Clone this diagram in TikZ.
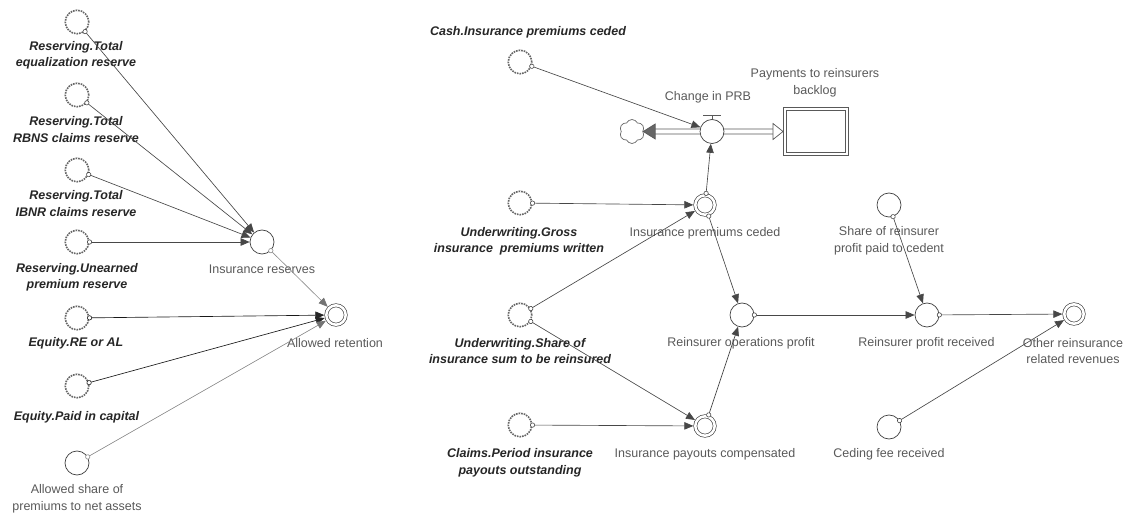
\documentclass[tikz,border=0pt]{standalone}
\usepackage{fontspec}
\setmainfont{Liberation Sans}
\usetikzlibrary{arrows.meta,shapes.symbols,backgrounds}
\begin{document}
\begin{tikzpicture}[x=1bp,y=-1bp,
  every node/.style={font=\fontsize{12.5bp}{16.5bp}\selectfont},
  ghost/.style={circle,draw=black!60,densely dotted,line width=1.6bp,minimum size=23.5bp,inner sep=0,fill=white},
  conv/.style={circle,draw=black!75,line width=0.7bp,minimum size=24bp,inner sep=0,fill=white},
  dconv/.style={circle,draw=black!70,line width=0.7bp,double=white,double distance=2.5bp,minimum size=19.4bp,inner sep=0,outer sep=2bp},
  lab/.style={text=black!65,align=center,inner sep=0},
  blab/.style={text=black!85,align=center,inner sep=0,font=\fontsize{12.5bp}{16.5bp}\selectfont\bfseries\itshape},
  conn/.style={draw=black!72,line width=0.65bp,shorten <=-2.5bp,
    {Circle[open,length=5bp,width=5bp,fill=white,line width=0.6bp]}-{Triangle[length=9bp,width=7.5bp,color=black!72]}},
  darkconn/.style={conn,draw=black!90,
    {Circle[open,length=5bp,width=5bp,fill=white,line width=0.6bp]}-{Triangle[length=9bp,width=7.5bp,color=black!85]}},
  lightconn/.style={conn,draw=black!45,
    {Circle[open,length=5bp,width=5bp,fill=white,line width=0.6bp]}-{Triangle[length=9bp,width=7.5bp,color=black!55]}},
  pipe/.style={draw=black!65,line width=0.7bp},
  stockbox/.style={rectangle,draw=black!65,line width=0.8bp,double=white,double distance=2bp,minimum width=62.4bp,minimum height=45.4bp,inner sep=0,outer sep=1.8bp},
  cloudshape/.style={cloud,draw=black!60,line width=0.7bp,cloud puffs=6,cloud puff arc=130,aspect=1,minimum width=25bp,minimum height=24bp,inner sep=0,fill=white}
]
\useasboundingbox (0,0) rectangle (1134,515);

% ---------- left part ----------
\node[ghost] (eq) at (77,22) {};
\node[blab] (l-eq) at (76,55.5) {Reserving.Total\\equalization reserve};
\node[ghost] (rbns) at (77,95) {};
\node[blab] (l-rbns) at (76,129.5) {Reserving.Total\\RBNS claims reserve};
\node[ghost] (ibnr) at (77,170) {};
\node[blab] (l-ibnr) at (76,203.5) {Reserving.Total\\IBNR claims reserve};
\node[ghost] (uepr) at (77,242) {};
\node[blab] (l-uepr) at (77,277.5) {Reserving.Unearned\\premium reserve};
\node[ghost] (eqre) at (77,318) {};
\node[blab] (l-eqre) at (76,343) {Equity.RE or AL};
\node[ghost] (paid) at (77,386) {};
\node[blab] (l-paid) at (76.5,417) {Equity.Paid in capital};
\node[conv] (ashare) at (77,463) {};
\node[lab] (l-ashare) at (77,499) {Allowed share of\\premiums to net assets};
\node[conv] (insres) at (262,242) {};
\node[lab] (l-insres) at (262,269) {Insurance reserves};
\node[dconv] (allret) at (336,315) {};
\node[lab] (l-allret) at (335,343) {Allowed retention};

% ---------- middle part ----------
\node[ghost] (cash) at (520,62) {};
\node[blab] (l-cash) at (528,32) {Cash.Insurance premiums ceded};
\node[conv] (valve) at (712,131.5) {};
\node[lab] (l-valve) at (708,97) {Change in PRB};
\node[cloudshape] (cloud) at (632,131.5) {};
\node[stockbox] (stock) at (816,131.5) {};
\node[lab] (l-stock) at (815,83) {Payments to reinsurers\\backlog};
\node[ghost] (gross) at (520,203) {};
\node[blab] (l-gross) at (519,241.5) {Underwriting.Gross\\insurance\ \ premiums written};
\node[dconv] (ipc) at (705,205) {};
\node[lab] (l-ipc) at (705,233) {Insurance premiums ceded};
\node[ghost] (share) at (520,315) {};
\node[blab] (l-share) at (520,351) {Underwriting.Share of\\insurance sum to be reinsured};
\node[ghost] (claims) at (520,425) {};
\node[blab] (l-claims) at (520,463) {Claims.Period insurance\\payouts outstanding};
\node[dconv] (payouts) at (705,426) {};
\node[lab] (l-payouts) at (705,454) {Insurance payouts compensated};
\node[conv] (rop) at (742,315) {};
\node[lab] (l-rop) at (741,343) {Reinsurer operations profit};

% ---------- right part ----------
\node[conv] (rpr) at (927,315) {};
\node[lab] (l-rpr) at (926.5,343) {Reinsurer profit received};
\node[dconv] (other) at (1074,314) {};
\node[lab] (l-other) at (1073,351) {Other reinsurance\\related revenues};
\node[conv] (srp) at (889,205) {};
\node[lab] (l-srp) at (889,241) {Share of reinsurer\\profit paid to cedent};
\node[conv] (ceding) at (889,427) {};
\node[lab] (l-ceding) at (889,454) {Ceding fee received};

% ---------- flow pipe ----------
\begin{scope}[on background layer]
  \draw[pipe] ([xshift=12bp,yshift=2.5bp]cloud.east) -- ([xshift=-10bp,yshift=2.5bp]stock.west);
  \draw[pipe] ([xshift=12bp,yshift=-2.5bp]cloud.east) -- ([xshift=-10bp,yshift=-2.5bp]stock.west);
\end{scope}
\draw[pipe,fill=white,line join=miter] ([xshift=-10bp,yshift=8bp]stock.west) -- (stock.west) -- ([xshift=-10bp,yshift=-8bp]stock.west) -- cycle;
\draw[pipe,fill=black!60] ([xshift=12bp,yshift=7.5bp]cloud.east) -- (cloud.east) -- ([xshift=12bp,yshift=-7.5bp]cloud.east) -- cycle;
\draw[pipe,line width=0.8bp] (valve.north) -- ++(0,-3.5) ++(-9,0) -- ++(18,0);

% ---------- connectors ----------
\draw[conn] (eq) -- (insres);
\draw[conn] (rbns) -- (insres);
\draw[conn] (ibnr) -- (insres);
\draw[conn] (uepr) -- (insres);
\draw[lightconn] (insres) -- (allret);
\draw[darkconn] (eqre) -- (allret);
\draw[darkconn] (paid) -- (allret);
\draw[lightconn] (ashare) -- (allret);

\draw[conn] (cash) -- (valve);
\draw[conn] (ipc) -- (valve);
\draw[conn] (gross) -- (ipc);
\draw[conn] (share) -- (ipc);
\draw[conn] (share) -- (payouts);
\draw[conn] (claims) -- (payouts);
\draw[conn] (ipc) -- (rop);
\draw[conn] (payouts) -- (rop);
\draw[conn] (rop) -- (rpr);
\draw[conn] (srp) -- (rpr);
\draw[conn] (rpr) -- (other);
\draw[conn] (ceding) -- (other);
\end{tikzpicture}
\end{document}
